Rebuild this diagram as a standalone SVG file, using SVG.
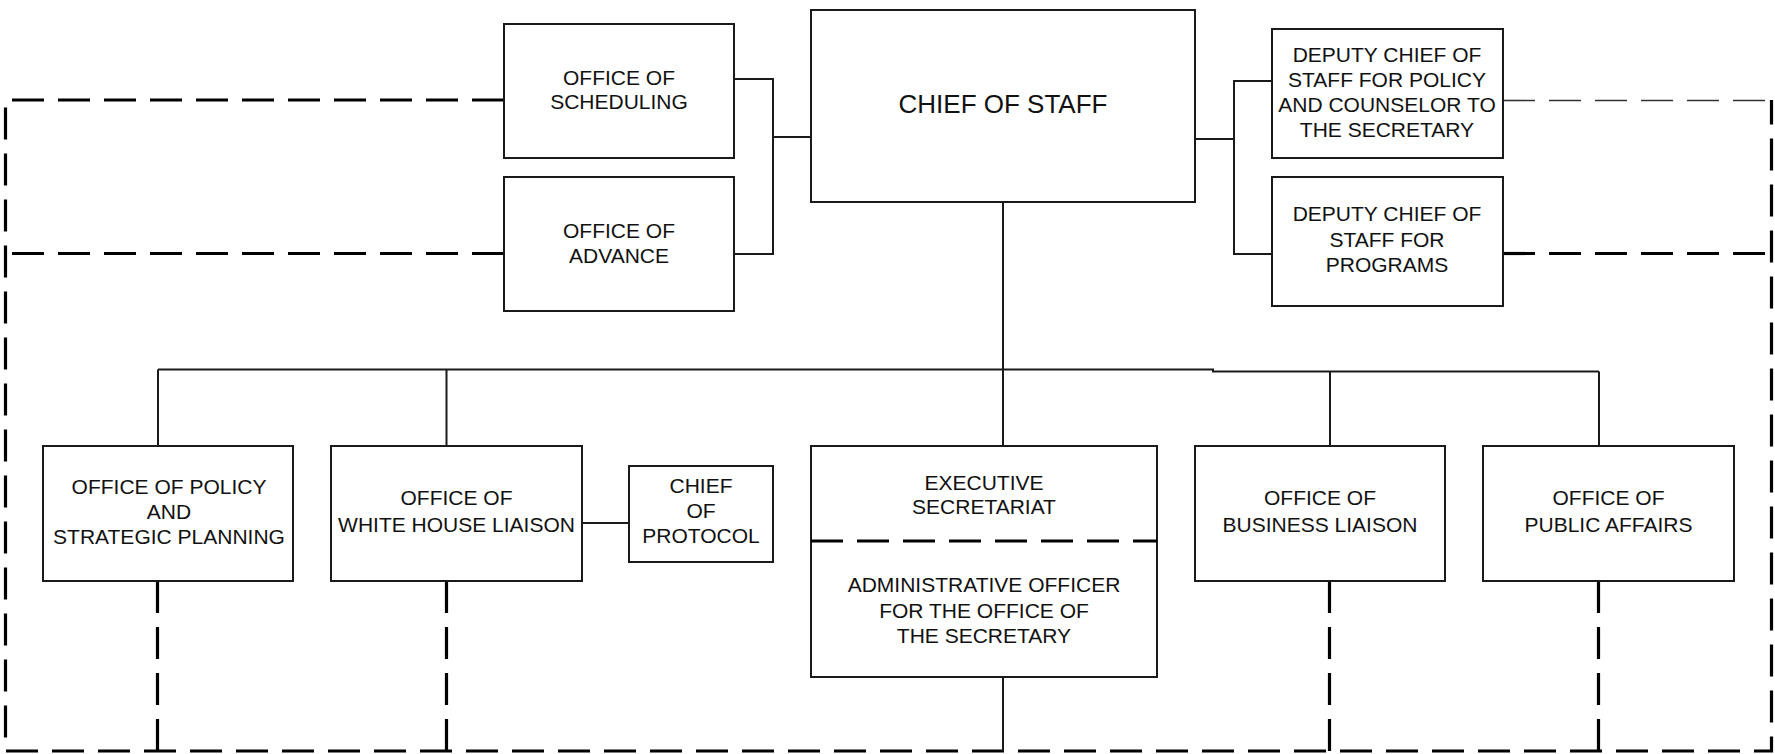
<svg xmlns="http://www.w3.org/2000/svg" width="1775" height="754" viewBox="0 0 1775 754">
<style>
.box{fill:#fff;stroke:#1a1a1a;stroke-width:2}
.ln{fill:none;stroke:#1a1a1a;stroke-width:2}
.dash{fill:none;stroke:#000;stroke-width:3.2;stroke-dasharray:32 14}
.thin{fill:none;stroke:#333;stroke-width:1.6;stroke-dasharray:32 14}
text{font-family:"Liberation Sans",Arial,sans-serif;font-size:21px;fill:#111;text-anchor:middle}
.big{font-size:26px}
</style>
<rect width="1775" height="754" fill="#fff"/>
<g id="connectors">
<path class="dash" d="M504 100 H5.5 V751 H1771.5 V100"/>
<path class="dash" d="M504 253.5 H5.5"/>
<path class="dash" d="M1503 253.5 H1771.5"/>
<path class="thin" d="M1503 100.5 H1771.5"/>
<path class="ln" d="M734 79 H773 V254 H734 M773 137 H811"/>
<path class="ln" d="M1195 139 H1234 M1272 81 H1234 V254 H1272"/>
<path class="ln" d="M1003 202 V446 M158 369.5 H1213 V371.5 H1599 M158 369.5 V446 M446.5 369.5 V446 M1330 371.5 V446 M1599 371.5 V446"/>
<path class="ln" d="M582 523 H629"/>
<path class="ln" d="M1003 677 V751"/>
<path class="dash" d="M157.5 581 V751 M446.5 581 V751 M1329.5 581 V751 M1598.5 581 V751"/>
</g>
<g id="scheduling"><rect class="box" x="504" y="24" width="230" height="134"/><text x="619" y="85">OFFICE OF</text><text x="619" y="109">SCHEDULING</text></g>
<g id="advance"><rect class="box" x="504" y="177" width="230" height="134"/><text x="619" y="238">OFFICE OF</text><text x="619" y="263">ADVANCE</text></g>
<g id="chief"><rect class="box" x="811" y="10" width="384" height="192"/><text class="big" x="1003" y="113">CHIEF OF STAFF</text></g>
<g id="deputy-policy"><rect class="box" x="1272" y="29" width="231" height="129"/><text x="1387" y="62">DEPUTY CHIEF OF</text><text x="1387" y="87">STAFF FOR POLICY</text><text x="1387" y="112">AND COUNSELOR TO</text><text x="1387" y="137">THE SECRETARY</text></g>
<g id="deputy-programs"><rect class="box" x="1272" y="177" width="231" height="129"/><text x="1387" y="221">DEPUTY CHIEF OF</text><text x="1387" y="247">STAFF FOR</text><text x="1387" y="272">PROGRAMS</text></g>
<g id="policy"><rect class="box" x="43" y="446" width="250" height="135"/><text x="169" y="494">OFFICE OF POLICY</text><text x="169" y="519">AND</text><text x="169" y="544">STRATEGIC PLANNING</text></g>
<g id="whitehouse"><rect class="box" x="331" y="446" width="251" height="135"/><text x="456.5" y="505">OFFICE OF</text><text x="456.5" y="532">WHITE HOUSE LIAISON</text></g>
<g id="protocol"><rect class="box" x="629" y="466" width="144" height="96"/><text x="701" y="493">CHIEF</text><text x="701" y="518">OF</text><text x="701" y="543">PROTOCOL</text></g>
<g id="executive"><rect class="box" x="811" y="446" width="346" height="231"/><path class="dash" d="M811 541 H1157"/><text x="984" y="490">EXECUTIVE</text><text x="984" y="514">SECRETARIAT</text><text x="984" y="592">ADMINISTRATIVE OFFICER</text><text x="984" y="618">FOR THE OFFICE OF</text><text x="984" y="643">THE SECRETARY</text></g>
<g id="business"><rect class="box" x="1195" y="446" width="250" height="135"/><text x="1320" y="505">OFFICE OF</text><text x="1320" y="532">BUSINESS LIAISON</text></g>
<g id="publicaffairs"><rect class="box" x="1483" y="446" width="251" height="135"/><text x="1608.5" y="505">OFFICE OF</text><text x="1608.5" y="532">PUBLIC AFFAIRS</text></g>
</svg>
